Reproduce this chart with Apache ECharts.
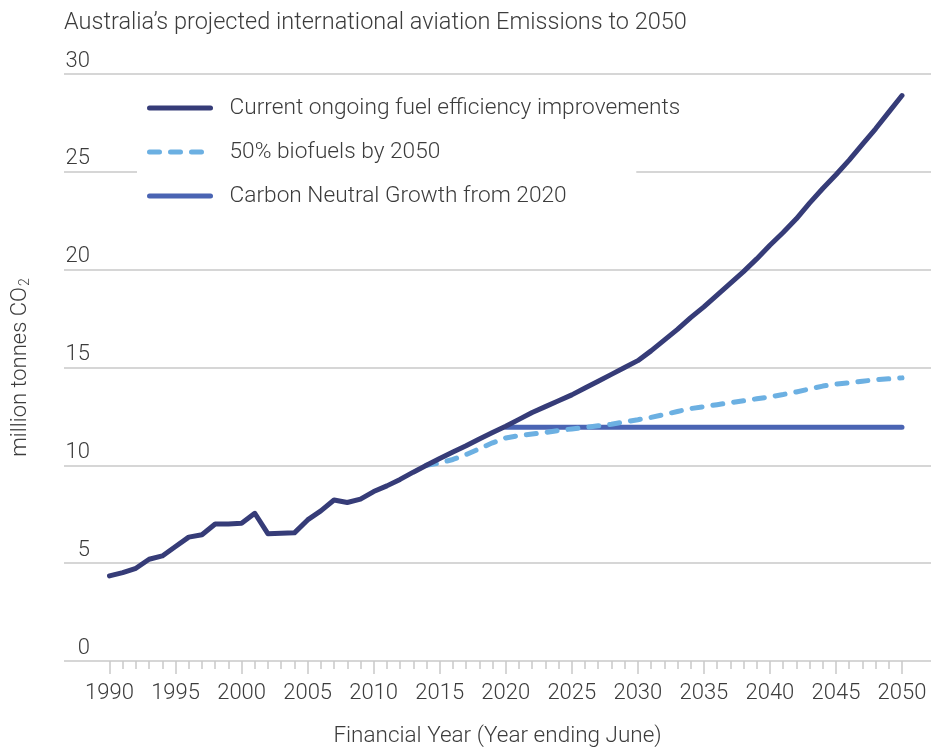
<!DOCTYPE html>
<html lang="en">

<head>
    <meta charset="UTF-8">
    <title>Australia's projected international aviation emissions</title>
    <script src="https://cdn.jsdelivr.net/npm/echarts@6/dist/echarts.min.js"></script>
    <style>
        body { margin: 0; background: #fff; }
    </style>
</head>

<body>
    <div id="main" style="width: 931px;height:750px;"></div>

    <script>
        // years on the x axis
        const years = [1990, 1991, 1992, 1993, 1994, 1995, 1996, 1997, 1998, 1999,
            2000, 2001, 2002, 2003, 2004, 2005, 2006, 2007, 2008, 2009,
            2010, 2011, 2012, 2013, 2014, 2015, 2016, 2017, 2018, 2019,
            2020, 2021, 2022, 2023, 2024, 2025, 2026, 2027, 2028, 2029,
            2030, 2031, 2032, 2033, 2034, 2035, 2036, 2037, 2038, 2039,
            2040, 2041, 2042, 2043, 2044, 2045, 2046, 2047, 2048, 2049, 2050];

        // million tonnes CO2, one value per year (null = not drawn)
        const currentEff = [4.35, 4.52, 4.74, 5.2, 5.37, 5.85, 6.33, 6.45, 7.0, 7.0,
            7.04, 7.55, 6.5, 6.53, 6.55, 7.21, 7.67, 8.23, 8.1, 8.27,
            8.66, 8.95, 9.28, 9.65, 10.0, 10.35, 10.68, 11.0, 11.35, 11.68,
            12.0, 12.35, 12.7, 13.0, 13.3, 13.6, 13.95, 14.3, 14.65, 15.0,
            15.35, 15.85, 16.4, 16.95, 17.55, 18.1, 18.7, 19.3, 19.9, 20.55,
            21.25, 21.9, 22.6, 23.4, 24.15, 24.85, 25.6, 26.4, 27.2, 28.05, 28.9];

        const biofuels = [null, null, null, null, null, null, null, null, null, null,
            null, null, null, null, null, null, null, null, null, null,
            null, null, null, null, 10.0, 10.12, 10.3, 10.55, 10.85, 11.15,
            11.4, 11.52, 11.6, 11.68, 11.78, 11.86, 11.94, 12.02, 12.1, 12.22,
            12.33, 12.45, 12.6, 12.75, 12.9, 13.0, 13.1, 13.2, 13.3, 13.4,
            13.5, 13.62, 13.75, 13.9, 14.05, 14.15, 14.22, 14.3, 14.37, 14.42, 14.47];

        const carbonNeutral = [null, null, null, null, null, null, null, null, null, null,
            null, null, null, null, null, null, null, null, null, null,
            null, null, null, null, null, null, null, null, null, null,
            11.95, 11.95, 11.95, 11.95, 11.95, 11.95, 11.95, 11.95, 11.95, 11.95,
            11.95, 11.95, 11.95, 11.95, 11.95, 11.95, 11.95, 11.95, 11.95, 11.95,
            11.95, 11.95, 11.95, 11.95, 11.95, 11.95, 11.95, 11.95, 11.95, 11.95, 11.95];

        const seriesNames = ['Current ongoing fuel efficiency improvements',
            '50% biofuels by 2050',
            'Carbon Neutral Growth from 2020'];

        const font = 'Roboto';
        const textColor = '#3c3c3c';
        const gridColor = '#c9c9c9';

        function pairs(vals) {
            return years.map((y, i) => [y, vals[i]]);
        }

        const myChart = echarts.init(document.getElementById('main'));

        let option = {
            animation: false,
            backgroundColor: '#fff',
            title: {
                text: 'Australia\u2019s projected international aviation Emissions to 2050',
                left: 59,
                top: 6,
                textStyle: { fontFamily: font, fontWeight: 300, fontSize: 23.5, color: textColor }
            },
            legend: {
                orient: 'vertical',
                left: 137,
                top: 88,
                // white box stops short of the longest label, like the original
                padding: [8, -44, 8, 10],
                backgroundColor: '#fff',
                itemWidth: 61,
                itemHeight: 12,
                itemGap: 20,
                data: seriesNames,
                itemStyle: { opacity: 0 },
                lineStyle: { width: 5, cap: 'round' },
                textStyle: {
                    fontFamily: font, fontWeight: 300, fontSize: 22.7, color: textColor,
                    lineHeight: 24, padding: [0, 0, 0, 14]
                }
            },
            grid: [
                { left: 64, right: 0, top: 74, bottom: 89, outerBoundsMode: 'none' },
                { left: 109.5, right: 29, top: 74, bottom: 89, outerBoundsMode: 'none' }
            ],
            xAxis: [
                {
                    gridIndex: 0, type: 'value', min: 0, max: 1,
                    axisLine: { show: false }, axisTick: { show: false },
                    axisLabel: { show: false }, splitLine: { show: false },
                    name: 'Financial Year (Year ending June)',
                    nameLocation: 'middle', nameGap: 64,
                    nameTextStyle: { fontFamily: font, fontWeight: 300, fontSize: 22.5, color: textColor }
                },
                {
                    gridIndex: 1, type: 'value', min: 1990, max: 2050, interval: 5,
                    axisLine: { show: false },
                    axisTick: { show: true, length: 13, lineStyle: { color: gridColor, width: 1.5 } },
                    minorTick: { show: true, splitNumber: 5, length: 8, lineStyle: { color: gridColor, width: 1.5 } },
                    splitLine: { show: false },
                    axisLabel: {
                        margin: 21, fontFamily: font, fontWeight: 300, fontSize: 22, color: textColor,
                        formatter: (v) => String(v),
                        showMinLabel: true, showMaxLabel: true
                    }
                }
            ],
            yAxis: [
                {
                    gridIndex: 0, type: 'value', min: 0, max: 30, interval: 5,
                    axisLine: { show: false }, axisTick: { show: false },
                    splitLine: { show: true, lineStyle: { color: gridColor, width: 1.5 } },
                    axisLabel: {
                        margin: -26, align: 'right', verticalAlign: 'bottom',
                        fontFamily: font, fontWeight: 300, fontSize: 22, color: textColor,
                        lineHeight: 22, padding: [0, 0, 2, 0],
                        showMinLabel: true, showMaxLabel: true
                    },
                    name: '{a|million tonnes CO}{b|2}',
                    nameLocation: 'middle', nameGap: 32, nameRotate: 90,
                    nameTextStyle: {
                        rich: {
                            a: { fontFamily: font, fontWeight: 300, fontSize: 22, color: textColor },
                            b: { fontFamily: font, fontWeight: 300, fontSize: 14, color: textColor, padding: [10, 0, 0, 1] }
                        }
                    }
                },
                { gridIndex: 1, type: 'value', min: 0, max: 30, show: false }
            ],
            series: [
                {
                    name: seriesNames[2], type: 'line', xAxisIndex: 1, yAxisIndex: 1,
                    data: pairs(carbonNeutral), symbol: 'none',
                    lineStyle: { color: '#4a64b3', width: 5, cap: 'round' },
                    itemStyle: { color: '#4a64b3' }
                },
                {
                    name: seriesNames[1], type: 'line', xAxisIndex: 1, yAxisIndex: 1,
                    data: pairs(biofuels), symbol: 'none',
                    lineStyle: { color: '#6cb0e2', width: 5, type: [10, 11], cap: 'round' },
                    itemStyle: { color: '#6cb0e2' }
                },
                {
                    name: seriesNames[0], type: 'line', xAxisIndex: 1, yAxisIndex: 1,
                    data: pairs(currentEff), symbol: 'none',
                    lineStyle: { color: '#363c78', width: 5, cap: 'round', join: 'round' },
                    itemStyle: { color: '#363c78' }
                }
            ]
        };

        myChart.setOption(option);
    </script>
</body>

</html>
